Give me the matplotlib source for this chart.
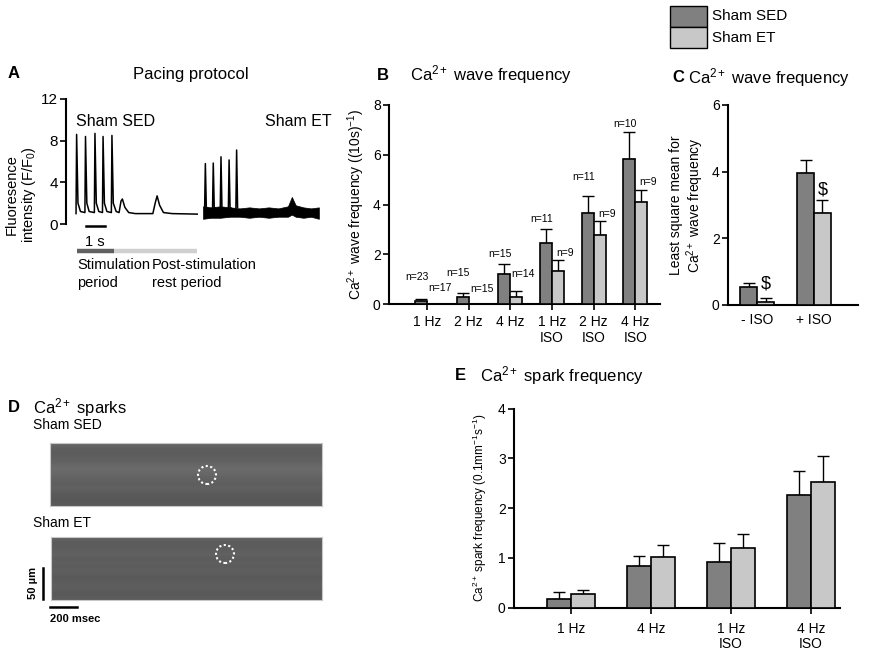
import matplotlib
matplotlib.use("Agg")
import matplotlib.pyplot as plt
from matplotlib.patches import Rectangle, Ellipse
from matplotlib.lines import Line2D
import numpy as np

plt.rcParams['font.family'] = ['Liberation Sans', 'DejaVu Sans']
plt.rcParams['mathtext.fontset'] = 'custom'
plt.rcParams['mathtext.rm'] = 'Liberation Sans'
plt.rcParams['mathtext.it'] = 'Liberation Sans'
plt.rcParams['mathtext.default'] = 'regular'

W, H = 870, 656

# ---- data ----
# panel A traces (time s, F/F0)
sed_t = [0.52, 0.55, 0.62, 0.75, 0.98, 1.01, 1.08, 1.2, 1.47, 1.50, 1.57, 1.7, 1.89, 1.92, 1.99, 2.12,
         2.35, 2.38, 2.45, 2.6, 2.75, 2.85, 2.92, 3.05, 3.25, 3.6, 4.5, 4.62, 4.72, 4.85, 5.05, 5.5, 6.8]
sed_f = [1.0, 8.6, 2.0, 1.2, 1.1, 8.4, 2.0, 1.2, 1.1, 8.7, 2.0, 1.2, 1.1, 8.4, 2.0, 1.2,
         1.1, 8.5, 2.0, 1.2, 1.1, 2.2, 2.4, 1.6, 1.1, 1.0, 1.0, 2.0, 2.7, 1.8, 1.1, 1.0, 0.95]
et_spk_t = [7.18, 7.22, 7.27, 7.59, 7.63, 7.68, 7.99, 8.03, 8.08, 8.41, 8.45, 8.5, 8.8, 8.84, 8.89]
et_spk_f = [1.2, 5.8, 1.6, 1.2, 5.85, 1.6, 1.2, 6.45, 1.6, 1.2, 6.15, 1.6, 1.2, 7.1, 1.6]
et_t = [7.1, 7.5, 8.0, 8.5, 9.0, 9.5, 10.0, 10.5, 11.0, 11.5, 11.7, 11.9, 12.3, 12.7, 13.1]
et_hi = [1.7, 1.6, 1.7, 1.6, 1.5, 1.6, 1.5, 1.6, 1.5, 1.7, 2.6, 1.8, 1.6, 1.5, 1.6]
et_lo = [0.5, 0.6, 0.6, 0.7, 0.7, 0.6, 0.7, 0.6, 0.7, 0.7, 0.9, 0.7, 0.6, 0.7, 0.5]

# panel B
b_labels = ['1 Hz', '2 Hz', '4 Hz', '1 Hz\nISO', '2 Hz\nISO', '4 Hz\nISO']
b_sed = [0.14, 0.28, 1.2, 2.44, 3.64, 5.81]
b_sed_err = [0.22, 0.44, 1.62, 3.01, 4.35, 6.92]
b_et = [0.0, 0.0, 0.29, 1.33, 2.77, 4.1]
b_et_err = [0.0, 0.0, 0.54, 1.77, 3.34, 4.58]
b_n_sed = ['n=23', 'n=15', 'n=15', 'n=11', 'n=11', 'n=10']
b_n_sed_y = [1.1, 1.24, 2.0, 3.42, 5.12, 7.23]
b_n_et = ['n=17', 'n=15', 'n=14', 'n=9', 'n=9', 'n=9']
b_n_et_y = [0.64, 0.6, 1.22, 2.05, 3.63, 4.9]

# panel C
c_labels = ['- ISO', '+ ISO']
c_sed = [0.55, 3.97]
c_sed_err = [0.65, 4.35]
c_et = [0.1, 2.75]
c_et_err = [0.22, 3.15]

# panel E
e_labels = ['1 Hz', '4 Hz', '1 Hz\nISO', '4 Hz\nISO']
e_sed = [0.18, 0.83, 0.91, 2.26]
e_sed_err = [0.31, 1.04, 1.29, 2.74]
e_et = [0.27, 1.02, 1.2, 2.52]
e_et_err = [0.35, 1.26, 1.48, 3.05]

# image row brightness for the line scans
scan1_rows = [0.40, 0.37, 0.36, 0.37, 0.38, 0.40, 0.42, 0.41, 0.39, 0.38, 0.37, 0.38, 0.36, 0.35, 0.34, 0.35]
scan2_rows = [0.38, 0.36, 0.36, 0.37, 0.38, 0.36, 0.37, 0.36, 0.37, 0.36, 0.35, 0.36, 0.37, 0.36, 0.35, 0.36]

c_sed_col = '#808080'
c_et_col = '#c8c8c8'


def px_axes(l, t, r, b):
    return fig.add_axes([l / W, 1 - b / H, (r - l) / W, (b - t) / H])


def ftext(x, y, s, **kw):
    fig.text(x / W, 1 - y / H, s, **kw)


def style(ax):
    for s in ['top', 'right']:
        ax.spines[s].set_visible(False)
    for s in ['left', 'bottom']:
        ax.spines[s].set_linewidth(1.5)
    ax.tick_params(width=1.2, length=4, labelsize=10, pad=2)


def bars(ax, sed, sed_err, et, et_err, w):
    x = np.arange(len(sed))
    ax.bar(x - w / 2, sed, w, color=c_sed_col, edgecolor='black', lw=1.2, zorder=3)
    ax.bar(x + w / 2, et, w, color=c_et_col, edgecolor='black', lw=1.2, zorder=3)
    s = np.array(sed); e = np.array(et)
    ax.errorbar(x - w / 2, s, yerr=[np.zeros_like(s), np.array(sed_err) - s], fmt='none',
                ecolor='black', elinewidth=1, capsize=4, capthick=1, zorder=2)
    ax.errorbar(x + w / 2, e, yerr=[np.zeros_like(e), np.array(et_err) - e], fmt='none',
                ecolor='black', elinewidth=1, capsize=4, capthick=1, zorder=2)
    return x


fig = plt.figure(figsize=(W / 100, H / 100), dpi=100)

# ---------------- A ----------------
axA = px_axes(66, 90, 320, 300)
axA.plot(sed_t, sed_f, color='black', lw=1.1)
axA.fill_between(et_t, et_lo, et_hi, color='black', lw=0.5)
axA.plot(et_spk_t, et_spk_f, color='black', lw=1.1)
axA.set_xlim(0, 13.16)
axA.set_ylim(-7.29, 12.86)
axA.spines['left'].set_bounds(0, 12)
for s in ['top', 'right', 'bottom']:
    axA.spines[s].set_visible(False)
axA.spines['left'].set_linewidth(1.5)
axA.set_xticks([])
axA.set_yticks([0, 4, 8, 12])
axA.tick_params(width=1.2, length=4, labelsize=11, pad=2)
axA.set_ylabel('Fluoresence\nintensity (F/F$_0$)', fontsize=10.5, labelpad=2, linespacing=1.1)
axA.plot([1.04, 2.02], [-0.2, -0.2], color='black', lw=1.8)
axA.text(1.5, -1.75, '1 s', ha='center', va='center', fontsize=10.5)
axA.plot([0.57, 2.49], [-2.6, -2.6], color='#606060', lw=3.2, solid_capstyle='butt')
axA.plot([2.49, 6.79], [-2.6, -2.6], color='#d0d0d0', lw=3.2, solid_capstyle='butt')
axA.text(0.57, -3.3, 'Stimulation\nperiod', ha='left', va='top', fontsize=10.5, linespacing=1.3)
axA.text(4.46, -3.3, 'Post-stimulation\nrest period', ha='left', va='top', fontsize=10.5, linespacing=1.3)
axA.text(0.52, 9.8, 'Sham SED', ha='left', va='center', fontsize=11.5)
axA.text(10.3, 9.8, 'Sham ET', ha='left', va='center', fontsize=11.5)
ftext(8, 74, 'A', fontsize=12, fontweight='bold', va='center')
ftext(191, 74, 'Pacing protocol', fontsize=12, ha='center', va='center')

# ---------------- B ----------------
axB = px_axes(389, 105, 660, 304)
style(axB)
wB = 0.29
xB = bars(axB, b_sed, b_sed_err, b_et, b_et_err, wB)
axB.set_xlim(-0.91, 5.59)
axB.set_ylim(0, 8)
axB.set_yticks([0, 2, 4, 6, 8])
axB.set_xticks(xB)
axB.set_xticklabels(b_labels, fontsize=10, linespacing=1.2)
axB.tick_params(axis='x', pad=4)
for i in range(len(xB)):
    axB.text(xB[i] - wB / 2 - 0.1, b_n_sed_y[i], b_n_sed[i], ha='center', va='center', fontsize=7.5)
    axB.text(xB[i] + wB / 2 + 0.17, b_n_et_y[i], b_n_et[i], ha='center', va='center', fontsize=7.5)
axB.set_ylabel('Ca$^{2+}$ wave frequency ((10s)$^{-1}$)', fontsize=10, labelpad=4)
ftext(377, 75, 'B', fontsize=12, fontweight='bold', va='center')
ftext(410, 75, 'Ca$^{2+}$ wave frequency', fontsize=12, va='center')

# ---------------- C ----------------
axC = px_axes(728, 105, 858, 305)
style(axC)
wC = 0.298
xC = bars(axC, c_sed, c_sed_err, c_et, c_et_err, wC)
axC.set_xlim(-0.509, 1.772)
axC.set_ylim(0, 6)
axC.set_yticks([0, 2, 4, 6])
axC.set_xticks(xC)
axC.set_xticklabels(c_labels, fontsize=10)
axC.tick_params(axis='x', length=0, pad=6)
axC.text(xC[0] + wC / 2, 0.62, '$', ha='center', va='center', fontsize=13)
axC.text(xC[1] + wC / 2, 3.45, '$', ha='center', va='center', fontsize=13)
axC.set_ylabel('Least square mean for\nCa$^{2+}$ wave frequency', fontsize=10, labelpad=4, linespacing=1.1)
ftext(672, 78, 'C', fontsize=12, fontweight='bold', va='center')
ftext(688, 78, 'Ca$^{2+}$ wave frequency', fontsize=12, va='center')

# legend
fig.add_artist(Rectangle((670 / W, 1 - 27 / H), 37 / W, 21 / H, transform=fig.transFigure,
                         facecolor=c_sed_col, edgecolor='black', lw=1))
fig.add_artist(Rectangle((670 / W, 1 - 48 / H), 37 / W, 21 / H, transform=fig.transFigure,
                         facecolor=c_et_col, edgecolor='black', lw=1))
ftext(712, 16, 'Sham SED', fontsize=11, va='center')
ftext(712, 38, 'Sham ET', fontsize=11, va='center')

# ---------------- D ----------------
ftext(8, 408, 'D', fontsize=12, fontweight='bold', va='center')
ftext(33, 408, 'Ca$^{2+}$ sparks', fontsize=12, va='center')
ftext(33, 425, 'Sham SED', fontsize=10, va='center')
ftext(33, 523, 'Sham ET', fontsize=10, va='center')
for rows, (l, t, r, b), (cx, cy) in [(scan1_rows, (50, 443, 322, 506), (207, 475)),
                                     (scan2_rows, (51, 537, 322, 600), (225, 554))]:
    axI = px_axes(l, t, r, b)
    axI.imshow(np.array(rows)[:, None] * np.ones((1, 40)), cmap='gray', vmin=0, vmax=1,
               aspect='auto', extent=[0, 1, 0, 1], interpolation='bilinear')
    axI.set_xticks([]); axI.set_yticks([])
    for s in axI.spines.values():
        s.set_color('#c8c8c8'); s.set_linewidth(0.8)
    axI.add_patch(Ellipse(((cx - l) / (r - l), (b - cy) / (b - t)), 18 / (r - l), 18 / (b - t),
                          fill=False, edgecolor='white', lw=1.5, linestyle=(0, (1, 1.2))))
fig.add_artist(Line2D([43 / W, 43 / W], [1 - 568 / H, 1 - 599 / H], transform=fig.transFigure,
                      color='black', lw=1.8))
fig.add_artist(Line2D([50 / W, 77 / W], [1 - 607 / H, 1 - 607 / H], transform=fig.transFigure,
                      color='black', lw=1.8))
ftext(33, 583, '50 µm', fontsize=8, fontweight='bold', rotation=90, ha='center', va='center')
ftext(50, 619, '200 msec', fontsize=8, fontweight='bold', va='center')

# ---------------- E ----------------
axE = px_axes(514, 408.5, 840, 607.7)
style(axE)
wE = 0.3
xE = bars(axE, e_sed, e_sed_err, e_et, e_et_err, wE)
axE.set_xlim(-0.7125, 3.3625)
axE.set_ylim(0, 4)
axE.set_yticks([0, 1, 2, 3, 4])
axE.set_xticks(xE)
axE.set_xticklabels(e_labels, fontsize=10, linespacing=1.1)
axE.tick_params(axis='x', pad=6)
axE.set_ylabel('Ca$^{2+}$ spark frequency (0.1mm$^{-1}$s$^{-1}$)', fontsize=8.5, labelpad=6)
ftext(455, 376, 'E', fontsize=12, fontweight='bold', va='center')
ftext(480, 376, 'Ca$^{2+}$ spark frequency', fontsize=12, va='center')

fig.savefig('out.png', dpi=100)
